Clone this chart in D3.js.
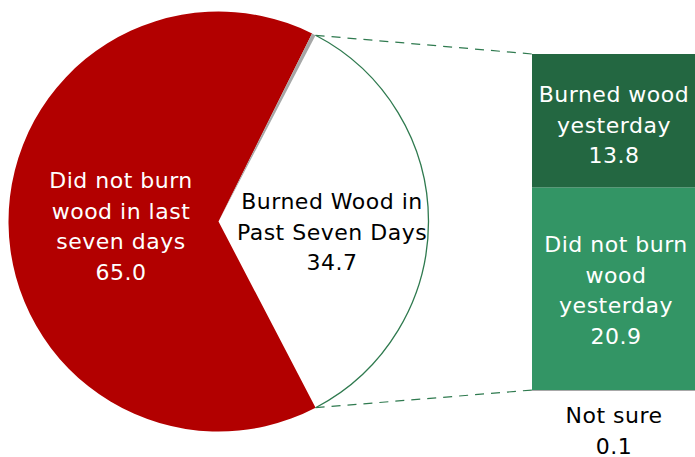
<!DOCTYPE html>
<html><head><meta charset="utf-8">
<script src="https://cdn.jsdelivr.net/npm/d3@7"></script>
<style>body{margin:0;background:#fff}svg{display:block}text{font-family:"DejaVu Sans",sans-serif}</style>
</head><body>
<svg id="c" width="695" height="457"></svg>
<script>
const pieLabels = ["Burned Wood in|Past Seven Days", "Did not burn|wood in last|seven days", "Not sure"];
const pieValues = [34.7, 65.0, 0.3];
const pieColors = ["#ffffff", "#b20000", "#a6a6a6"];
const barLabels = ["Burned wood|yesterday", "Did not burn|wood|yesterday", "Not sure"];
const barValues = [13.8, 20.9, 0.1];
const barColors = ["#236741", "#339565", "#a6a6a6"];

const svg = d3.select("#c");
const cx = 218.5, cy = 221.5, r = 210;
const half = pieValues[0] / 100 * Math.PI;
const pie = d3.pie().sort(null).value(d => d)
  .startAngle(Math.PI / 2 - half).endAngle(Math.PI / 2 - half + 2 * Math.PI);
const arcs = pie(pieValues);
const arc = d3.arc().innerRadius(0).outerRadius(r);
const g = svg.append("g").attr("transform", `translate(${cx},${cy})`);
g.selectAll("path").data(arcs).join("path")
  .attr("d", arc).attr("fill", (d, i) => pieColors[i]);
// outline arc of the white slice
g.append("path")
  .attr("d", d3.arc().innerRadius(r).outerRadius(r)(arcs[0]))
  .attr("fill", "none").attr("stroke", "#2f7a4f").attr("stroke-width", 1.3);

// bar
const barX = 532, barW = 163, barTop = 54, barBot = 391;
const total = d3.sum(barValues);
const y = d3.scaleLinear().domain([0, total]).range([barTop, barBot]);
let acc = 0;
const segs = barValues.map((v, i) => { const s = { v, i, y0: acc, y1: acc + v }; acc += v; return s; });
svg.selectAll("rect.seg").data(segs).join("rect").attr("class", "seg")
  .attr("x", barX).attr("width", barW)
  .attr("y", d => y(d.y0)).attr("height", d => y(d.y1) - y(d.y0))
  .attr("fill", d => barColors[d.i]);

// connector lines
const pTop = [cx + r * Math.sin(arcs[0].startAngle), cy - r * Math.cos(arcs[0].startAngle)];
const pBot = [cx + r * Math.sin(arcs[0].endAngle), cy - r * Math.cos(arcs[0].endAngle)];
[[pTop, [barX, barTop]], [pBot, [barX, y(barValues[0] + barValues[1])]]].forEach(([a, b]) => {
  svg.append("line").attr("x1", a[0]).attr("y1", a[1]).attr("x2", b[0]).attr("y2", b[1])
    .attr("stroke", "#2f7a4f").attr("stroke-width", 1.2).attr("stroke-dasharray", "9,7");
});

function label(x, yy, lines, color) {
  const t = svg.append("text").attr("x", x).attr("y", yy).attr("text-anchor", "middle")
    .attr("fill", color).attr("font-size", 22).attr("letter-spacing", 0.5);
  lines.forEach((l, i) => t.append("tspan").attr("x", x).attr("dy", i ? 30.5 : 0).text(l));
}
label(121, 188, [...pieLabels[1].split("|"), pieValues[1].toFixed(1)], "#fff");
label(332, 209, [...pieLabels[0].split("|"), pieValues[0].toFixed(1)], "#000");
label(614, 102, [...barLabels[0].split("|"), barValues[0].toFixed(1)], "#fff");
label(616, 252, [...barLabels[1].split("|"), barValues[1].toFixed(1)], "#fff");
label(614, 423, [barLabels[2], barValues[2].toFixed(1)], "#000");
</script>
</body></html>
